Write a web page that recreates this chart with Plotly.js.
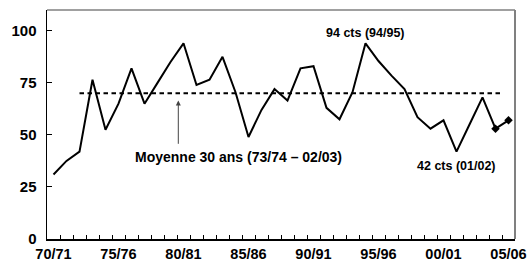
<!DOCTYPE html>
<html>
<head>
<meta charset="utf-8">
<script src="https://cdn.plot.ly/plotly-3.0.1.min.js"></script>
<style>html,body{margin:0;padding:0;background:#fff;}#chart{width:532px;height:272px;}</style>
</head>
<body>
<div id="chart"></div>
<script>
// Seasons (campagnes)
const seasons = ['70/71','71/72','72/73','73/74','74/75','75/76','76/77','77/78','78/79','79/80',
  '80/81','81/82','82/83','83/84','84/85','85/86','86/87','87/88','88/89','89/90',
  '90/91','91/92','92/93','93/94','94/95','95/96','96/97','97/98','98/99','99/00',
  '00/01','01/02','02/03','03/04','04/05','05/06'];
// Price (cts)
const prices = [31, 37.5, 42, 76.5, 52.5, 65, 82, 65, 75, 85,
  94, 74, 76.5, 87.5, 70.5, 49, 62, 72, 66.5, 82,
  83, 63, 57.5, 70.5, 94, 85.5, 78.5, 72, 58.5, 53,
  57, 42, 55, 68, 53, 57];
const tickLabels = ['70/71','75/76','80/81','85/86','90/91','95/96','00/01','05/06'];
const yTicks = [0, 25, 50, 75, 100];
const meanValue = 70;
const meanFrom = '72/73';
const meanTo = '04/05';
const markedFrom = '04/05';

const idx = s => seasons.indexOf(s);
const xs = seasons.map((s, i) => i);
const mk = idx(markedFrom);
const b = t => '<b>' + t + '</b>';

const fam = 'Liberation Sans, Arial, sans-serif';

const traces = [
  {x: xs.slice(0, mk + 1), y: prices.slice(0, mk + 1), mode: 'lines', type: 'scatter',
   line: {color: '#000', width: 2}, hoverinfo: 'skip'},
  {x: xs.slice(mk), y: prices.slice(mk), mode: 'lines+markers', type: 'scatter',
   line: {color: '#000', width: 2}, marker: {symbol: 'diamond', size: 6.5, color: '#000'}, hoverinfo: 'skip'},
  // carrier for the label axis (invisible)
  {x: xs, y: prices, xaxis: 'x2', mode: 'lines', type: 'scatter',
   line: {color: 'rgba(0,0,0,0)', width: 0}, hoverinfo: 'skip'}
];

const xr = [-0.5, seasons.length - 0.5];
const layout = {
  width: 532, height: 272,
  margin: {l: 46.5, r: 17, t: 10, b: 33},
  paper_bgcolor: '#fff', plot_bgcolor: '#fff',
  showlegend: false,
  xaxis: {
    range: xr,
    tickmode: 'array', tickvals: xs.slice(0, -1).map(i => i + 0.5),
    ticks: 'inside', ticklen: 4, tickcolor: '#000', tickwidth: 1,
    showticklabels: false, showgrid: false, zeroline: false,
    showline: true, linecolor: '#000', linewidth: 1.5
  },
  xaxis2: {
    range: xr, overlaying: 'x', anchor: 'y', side: 'bottom',
    tickmode: 'array', tickvals: tickLabels.map(idx), ticktext: tickLabels.map(b),
    ticks: '', showgrid: false, zeroline: false, showline: false,
    tickfont: {family: fam, size: 14.5, color: '#000'},
    ticklabelstandoff: 4
  },
  yaxis: {
    range: [0, 110],
    tickmode: 'array', tickvals: yTicks, ticktext: yTicks.map(v => b(v)),
    ticks: 'inside', ticklen: 5, tickcolor: '#000', tickwidth: 1,
    showgrid: false, zeroline: false,
    showline: true, linecolor: '#000', linewidth: 1.5,
    tickfont: {family: fam, size: 15, color: '#000'},
    ticklabelstandoff: 6
  },
  shapes: [
    {type: 'line', xref: 'x', yref: 'y', x0: idx(meanFrom), x1: idx(meanTo) + 0.45, y0: meanValue, y1: meanValue,
     line: {color: '#000', width: 2, dash: '4.5px,3.5px'}},
    {type: 'line', xref: 'paper', yref: 'paper', x0: 0, x1: 1, y0: 1, y1: 1, line: {color: '#808080', width: 1.5}},
    {type: 'line', xref: 'paper', yref: 'paper', x0: 1, x1: 1, y0: 0, y1: 1, line: {color: '#808080', width: 2}}
  ],
  annotations: [
    {x: idx('94/95'), y: 99, xref: 'x', yref: 'y', text: b('94 cts (94/95)'), showarrow: false,
     font: {family: fam, size: 12.5, color: '#000'}},
    {x: idx('01/02'), y: 35, xref: 'x', yref: 'y', text: b('42 cts (01/02)'), showarrow: false,
     font: {family: fam, size: 12.5, color: '#000'}},
    {x: 14.2, y: 39.3, xref: 'x', yref: 'y', text: b('Moyenne 30 ans (73/74 – 02/03)'), showarrow: false,
     font: {family: fam, size: 14, color: '#000'}},
    {x: 9.6, y: 66.5, xref: 'x', yref: 'y', ax: 9.6, ay: 45, axref: 'x', ayref: 'y', text: '',
     showarrow: true, arrowhead: 2, arrowsize: 1, arrowwidth: 1, arrowcolor: '#444'}
  ]
};

Plotly.newPlot('chart', traces, layout, {displayModeBar: false, staticPlot: true});
</script>
</body>
</html>
